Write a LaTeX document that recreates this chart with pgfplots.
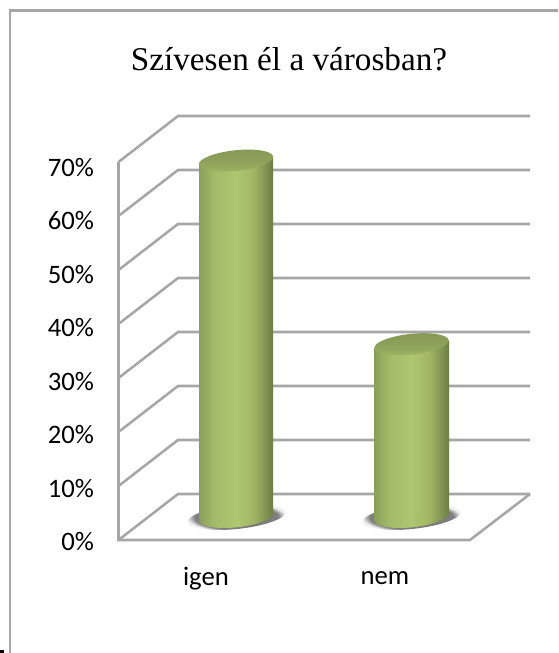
\documentclass[border=0pt]{standalone}
\usepackage{pgfplots}
\pgfplotsset{compat=1.18}
\usepackage{fontspec}
\setmainfont{Carlito}
\newfontfamily\titlefont{Liberation Serif}
\usetikzlibrary{shadings,shapes.geometric}

% 1px = 0.75pt, picture is 558x653 px
\definecolor{gridc}{HTML}{A6A6A6}

\pgfdeclarehorizontalshading{cylbody}{100bp}{
  rgb(0bp)=(0.54,0.62,0.35);
  rgb(25bp)=(0.54,0.62,0.35);
  rgb(35bp)=(0.64,0.73,0.41);
  rgb(50bp)=(0.68,0.78,0.44);
  rgb(62bp)=(0.63,0.71,0.39);
  rgb(71bp)=(0.49,0.56,0.31);
  rgb(75bp)=(0.42,0.49,0.27);
  rgb(100bp)=(0.42,0.49,0.27)}
\pgfdeclareverticalshading{cyllid}{100bp}{
  rgb(0bp)=(0.74,0.83,0.48);
  rgb(25bp)=(0.74,0.83,0.48);
  rgb(30bp)=(0.61,0.69,0.38);
  rgb(50bp)=(0.55,0.63,0.35);
  rgb(75bp)=(0.52,0.60,0.33);
  rgb(100bp)=(0.52,0.60,0.33)}
\pgfdeclareradialshading{floorshadow}{\pgfpointorigin}{
  rgb(0bp)=(0.42,0.42,0.42);
  rgb(21bp)=(0.50,0.50,0.50);
  rgb(25bp)=(0.95,0.95,0.95);
  rgb(50bp)=(1,1,1)}

\pgfplotsset{
  cap/.style={only marks, mark=none, nodes near coords={},
    every node near coord/.style={anchor=center, ellipse, inner sep=0pt,
      minimum width=#1, minimum height=15.5pt, rotate=6}},
}

\begin{document}
\begin{tikzpicture}
\begin{axis}[
    scale only axis,
    width=418.5pt,
    height=489.75pt,
    xmin=0, xmax=558,
    ymin=-25.185, ymax=95.741,
    axis line style={draw=none},
    tick style={draw=none},
    clip=true,
    clip mode=individual,
    xtick={206,385},
    xticklabels={igen,nem},
    xticklabel style={font=\fontsize{20}{22}\selectfont, anchor=center, yshift=56pt},
    ytick={0,10,...,70},
    yticklabel={\pgfmathsetmacro\r{-0.375*\ticknum}\raisebox{\r pt}[\height][\depth]{\pgfmathprintnumber{\tick}\%}},
    /pgf/number format/assume math mode=true,
    yticklabel style={font=\fontsize{20}{22}\selectfont, anchor=east, xshift=74pt, yshift=-18.6pt},
]
% frame of the chart area
\addplot[gridc, line width=1.9pt] coordinates {(10,-25.185) (10,93.8) (558,93.8)};
\addplot[black, fill=black, draw=none] coordinates {(0,-25.185) (4,-25.185) (4,-24.6) (0,-24.6)} --cycle;

% walls and floor: front edge y-4.26, back edge y+4.26
\addplot[gridc, line width=1.9pt] coordinates {(118.5,65.74) (118.5,-4.26) (470,-4.26) (530,4.26)};
\addplot[gridc, line width=1.9pt] coordinates {(118.5,-4.26) (178,4.26) (530,4.26)};
\addplot[gridc, line width=1.9pt] coordinates {(118.5,5.74) (178,14.26) (530,14.26)};
\addplot[gridc, line width=1.9pt] coordinates {(118.5,15.74) (178,24.26) (530,24.26)};
\addplot[gridc, line width=1.9pt] coordinates {(118.5,25.74) (178,34.26) (530,34.26)};
\addplot[gridc, line width=1.9pt] coordinates {(118.5,35.74) (178,44.26) (530,44.26)};
\addplot[gridc, line width=1.9pt] coordinates {(118.5,45.74) (178,54.26) (530,54.26)};
\addplot[gridc, line width=1.9pt] coordinates {(118.5,55.74) (178,64.26) (530,64.26)};
\addplot[gridc, line width=1.9pt] coordinates {(118.5,65.74) (178,74.26) (530,74.26)};

% cylinders
\addplot[cap=74pt, every node near coord/.append style={minimum height=18pt, shading=floorshadow}] coordinates {(236.5,0) (411.5,0)};
\addplot[cap=56pt, every node near coord/.append style={shading=cylbody}] coordinates {(236,0) (411.5,0)};
\addplot[shading=cylbody, draw=none] coordinates {(199,-0.7) (199,65.3) (273,66.7) (273,0.7)} --cycle;
\addplot[shading=cylbody, draw=none] coordinates {(374,-0.7) (374,31.3) (449,32.7) (449,0.7)} --cycle;
\addplot[cap=56pt, every node near coord/.append style={shading=cyllid}] coordinates {(236,66) (411.5,32)};

\node[font=\titlefont\fontsize{24.9}{28}\selectfont] at (axis cs:289,84.8) {Szívesen él a városban?};
\end{axis}
\end{tikzpicture}
\end{document}
